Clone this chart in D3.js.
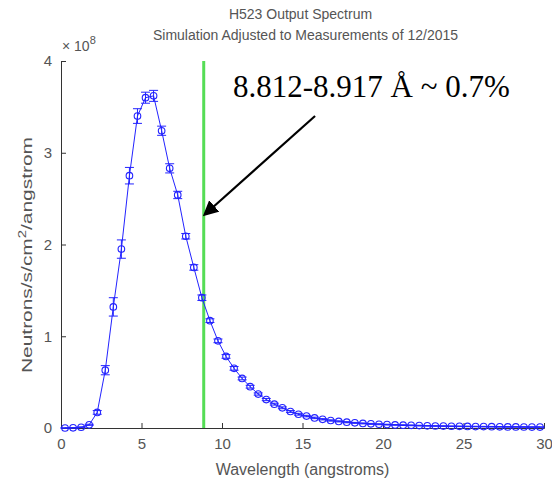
<!DOCTYPE html>
<html>
<head>
<meta charset="utf-8">
<script src="https://cdn.jsdelivr.net/npm/d3@7"></script>
<style>
  body { margin: 0; background: #fff; }
  text { font-family: "Liberation Sans", Arial, sans-serif; }
</style>
</head>
<body>
<div id="chart"></div>
<script>
// Wavelength grid (angstroms)
var wavelength = [0.25, 0.75, 1.25, 1.75, 2.25, 2.75, 3.25, 3.75, 4.25, 4.75,
    5.25, 5.75, 6.25, 6.75, 7.25, 7.75, 8.25, 8.75, 9.25, 9.75,
    10.25, 10.75, 11.25, 11.75, 12.25, 12.75, 13.25, 13.75, 14.25, 14.75,
    15.25, 15.75, 16.25, 16.75, 17.25, 17.75, 18.25, 18.75, 19.25, 19.75,
    20.25, 20.75, 21.25, 21.75, 22.25, 22.75, 23.25, 23.75, 24.25, 24.75,
    25.25, 25.75, 26.25, 26.75, 27.25, 27.75, 28.25, 28.75, 29.25, 29.75];

// Flux (x 1e8 neutrons/s/cm^2/angstrom)
var flux = [0.000, 0.002, 0.008, 0.035, 0.17, 0.63, 1.32, 1.95, 2.75, 3.40,
    3.60, 3.62, 3.24, 2.83, 2.54, 2.09, 1.75, 1.42, 1.17, 0.95,
    0.78, 0.65, 0.54, 0.45, 0.37, 0.31, 0.26, 0.22, 0.18, 0.15,
    0.13, 0.11, 0.095, 0.082, 0.072, 0.063, 0.056, 0.050, 0.045, 0.041,
    0.037, 0.034, 0.031, 0.029, 0.026, 0.024, 0.022, 0.021, 0.019, 0.018,
    0.017, 0.016, 0.015, 0.014, 0.013, 0.012, 0.012, 0.011, 0.010, 0.010];

// Error bars (same units)
var fluxErr = [0.003, 0.003, 0.004, 0.006, 0.02, 0.05, 0.10, 0.10, 0.09, 0.08,
    0.06, 0.06, 0.05, 0.05, 0.04, 0.03, 0.03, 0.03, 0.02, 0.02,
    0.02, 0.02, 0.015, 0.015, 0.012, 0.012, 0.01, 0.01, 0.01, 0.01,
    0.008, 0.008, 0.007, 0.007, 0.006, 0.006, 0.005, 0.005, 0.005, 0.005,
    0.004, 0.004, 0.004, 0.004, 0.004, 0.003, 0.003, 0.003, 0.003, 0.003,
    0.003, 0.003, 0.003, 0.003, 0.003, 0.003, 0.003, 0.003, 0.003, 0.003];

var xTicks = [0, 5, 10, 15, 20, 25, 30];
var yTicks = [0, 1, 2, 3, 4];

// Highlighted band and its note
var bandCenter = 8.865;
var noteText = "8.812-8.917 \u00C5 ~ 0.7%";
var arrowFrom = [15.78, 3.40];
var arrowTo = [8.95, 2.33];
var notePos = [10.68, 3.61];

var svgWidth = 552;
var svgHeight = 481;

var margin = { top: 61, right: 8, bottom: 53, left: 61 };
var chartWidth = svgWidth - margin.left - margin.right;
var chartHeight = svgHeight - margin.top - margin.bottom;

var svg = d3.select("#chart").append("svg")
    .attr("width", svgWidth)
    .attr("height", svgHeight);

var chartGroup = svg.append("g")
    .attr("transform", `translate(${margin.left}, ${margin.top})`);

var data = wavelength.map(function (w, i) {
    return { x: w, y: flux[i], e: fluxErr[i] };
});

// Scales
var xScale = d3.scaleLinear().domain([0, 30]).range([0, chartWidth]);
var yScale = d3.scaleLinear().domain([0, 4]).range([chartHeight, 0]);

var blue = "#2323ff";
var grey = "#555";

// Axes, ticks pointing inward
var bottomAxis = d3.axisBottom(xScale).tickValues(xTicks).tickFormat(d3.format("d"))
    .tickSize(-5).tickPadding(10);
var leftAxis = d3.axisLeft(yScale).tickValues(yTicks).tickFormat(d3.format("d"))
    .tickSize(-5).tickPadding(9);

var xAxisG = chartGroup.append("g")
    .attr("transform", `translate(0, ${chartHeight})`)
    .call(bottomAxis);

var yAxisG = chartGroup.append("g")
    .call(leftAxis);

[xAxisG, yAxisG].forEach(function (g) {
    g.select(".domain").attr("stroke", "#333");
    g.selectAll(".tick line").attr("stroke", "#333");
    g.selectAll(".tick text")
        .attr("fill", grey)
        .style("font-size", "15px")
        .style("font-family", "'Liberation Sans', Arial, sans-serif");
});

// Green band line
chartGroup.append("line")
    .attr("x1", xScale(bandCenter))
    .attr("x2", xScale(bandCenter))
    .attr("y1", yScale(4))
    .attr("y2", yScale(0))
    .attr("stroke", "#55dd55")
    .attr("stroke-width", 3);

// Data line
var line = d3.line()
    .x(d => xScale(d.x))
    .y(d => yScale(d.y));

chartGroup.append("path")
    .datum(data)
    .attr("fill", "none")
    .attr("stroke", blue)
    .attr("stroke-width", 1)
    .attr("d", line);

// Error bars
var bars = chartGroup.selectAll(".err")
    .data(data)
    .enter()
    .append("g")
    .attr("class", "err")
    .attr("stroke", blue)
    .attr("stroke-width", 1);

bars.append("line")
    .attr("x1", d => xScale(d.x))
    .attr("x2", d => xScale(d.x))
    .attr("y1", d => yScale(d.y - d.e))
    .attr("y2", d => yScale(d.y + d.e));

bars.append("line")
    .attr("x1", d => xScale(d.x) - 4.5)
    .attr("x2", d => xScale(d.x) + 4.5)
    .attr("y1", d => yScale(d.y - d.e))
    .attr("y2", d => yScale(d.y - d.e));

bars.append("line")
    .attr("x1", d => xScale(d.x) - 4.5)
    .attr("x2", d => xScale(d.x) + 4.5)
    .attr("y1", d => yScale(d.y + d.e))
    .attr("y2", d => yScale(d.y + d.e));

// Circle markers
chartGroup.selectAll("circle")
    .data(data)
    .enter()
    .append("circle")
    .attr("cx", d => xScale(d.x))
    .attr("cy", d => yScale(d.y))
    .attr("r", 3.3)
    .attr("fill", "none")
    .attr("stroke", blue)
    .attr("stroke-width", 1.1);

// Exponent label
var expText = chartGroup.append("text")
    .attr("x", 1)
    .attr("y", -10)
    .attr("fill", grey)
    .style("font-size", "14px")
    .text("\u00D7 10");
expText.append("tspan")
    .attr("dy", -7)
    .style("font-size", "11px")
    .text("8");

// Titles
svg.append("text")
    .attr("x", margin.left + chartWidth / 2 - 2)
    .attr("y", 19)
    .attr("text-anchor", "middle")
    .attr("fill", grey)
    .style("font-size", "14px")
    .text("H523 Output Spectrum");

svg.append("text")
    .attr("x", margin.left + chartWidth / 2 + 3)
    .attr("y", 40)
    .attr("text-anchor", "middle")
    .attr("fill", grey)
    .style("font-size", "14px")
    .text("Simulation Adjusted to Measurements of 12/2015");

// X label
chartGroup.append("text")
    .attr("x", chartWidth / 2)
    .attr("y", chartHeight + 47)
    .attr("text-anchor", "middle")
    .attr("fill", grey)
    .style("font-size", "16px")
    .text("Wavelength (angstroms)");

// Y label
var yLabel = chartGroup.append("text")
    .attr("transform", "rotate(-90)")
    .attr("x", -194)
    .attr("y", -29)
    .attr("text-anchor", "middle")
    .attr("fill", grey)
    .attr("textLength", 236)
    .attr("lengthAdjust", "spacingAndGlyphs")
    .style("font-size", "14px")
    .text("Neutrons/s/cm");
yLabel.append("tspan")
    .attr("dy", -6)
    .style("font-size", "10px")
    .text("2");
yLabel.append("tspan")
    .attr("dy", 6)
    .text("/angstrom");

// Arrow and note
svg.append("defs").append("marker")
    .attr("id", "head")
    .attr("viewBox", "0 0 10 10")
    .attr("refX", 8)
    .attr("refY", 5)
    .attr("markerWidth", 7)
    .attr("markerHeight", 7)
    .attr("orient", "auto")
    .append("path")
    .attr("d", "M0,0 L10,5 L0,10 z")
    .attr("fill", "#000");

chartGroup.append("line")
    .attr("x1", xScale(arrowFrom[0]))
    .attr("y1", yScale(arrowFrom[1]))
    .attr("x2", xScale(arrowTo[0]))
    .attr("y2", yScale(arrowTo[1]))
    .attr("stroke", "#000")
    .attr("stroke-width", 2.2)
    .attr("marker-end", "url(#head)");

chartGroup.append("text")
    .attr("x", xScale(notePos[0]))
    .attr("y", yScale(notePos[1]))
    .attr("fill", "#000")
    .style("font-family", "'Liberation Serif', 'Times New Roman', serif")
    .style("font-size", "31px")
    .text(noteText);
</script>
</body>
</html>
